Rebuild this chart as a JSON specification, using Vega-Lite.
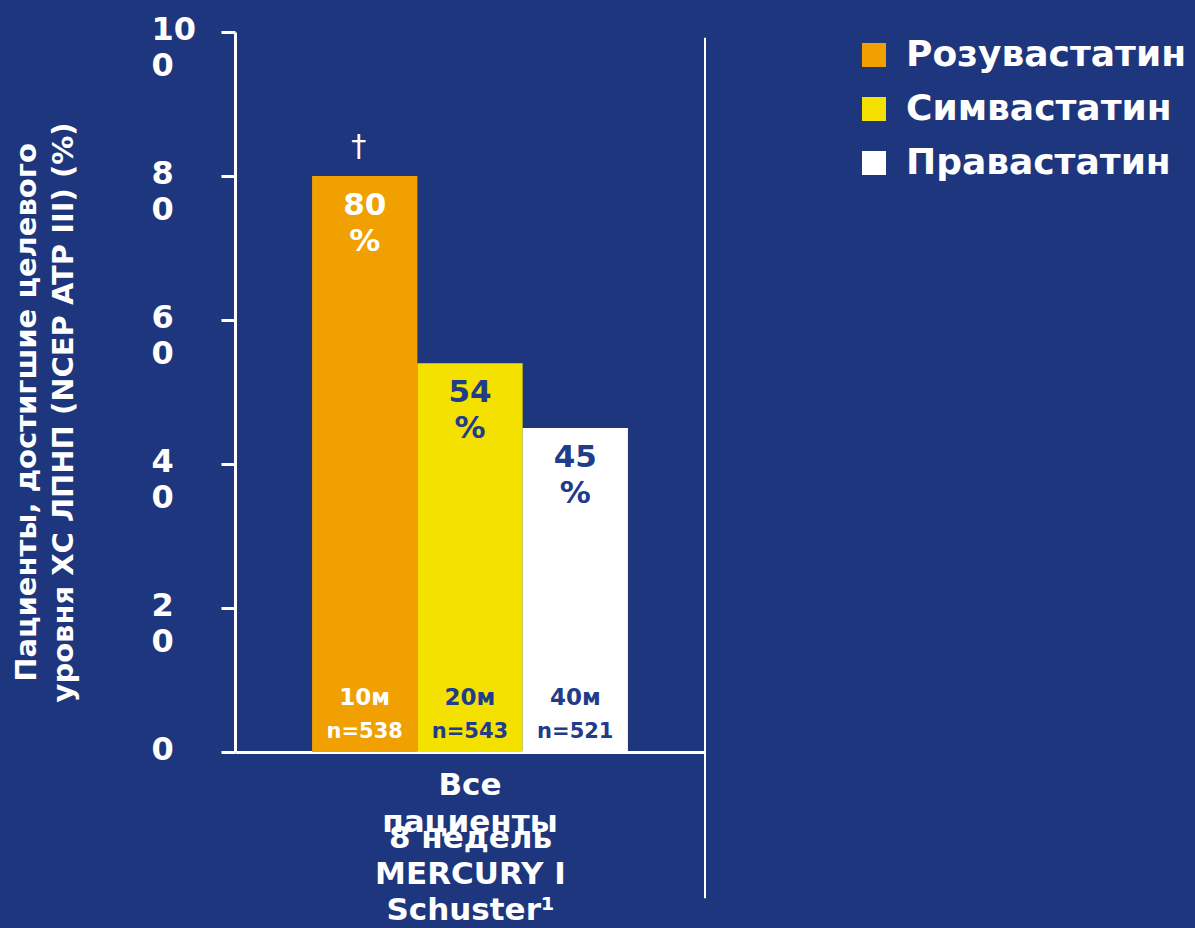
{
  "$schema": "https://vega.github.io/schema/vega-lite/v6.json",
  "width": 470,
  "height": 720,
  "autosize": {"type": "none"},
  "padding": {"left": 235, "top": 32, "right": 490, "bottom": 176},
  "background": "#1e367d",
  "config": {"view": {"stroke": null}, "font": "DejaVu Sans"},
  "data": {
    "values": [
      {"group": "Все пациенты", "drug": "Розувастатин", "value": 80, "label": "80\n%", "dose": "10м", "n": "n=538"},
      {"group": "Все пациенты", "drug": "Симвастатин", "value": 54, "label": "54\n%", "dose": "20м", "n": "n=543"},
      {"group": "Все пациенты", "drug": "Правастатин", "value": 45, "label": "45\n%", "dose": "40м", "n": "n=521"}
    ]
  },
  "encoding": {
    "x": {
      "field": "group",
      "type": "nominal",
      "scale": {"paddingInner": 0, "paddingOuter": 0},
      "axis": {
        "title": ["8 недель", "MERCURY I", "Schuster¹"],
        "titleColor": "white",
        "titleFont": "DejaVu Sans",
        "titleFontSize": 31,
        "titleFontWeight": "bold",
        "titleLineHeight": 36,
        "titlePadding": -14,
        "labelColor": "white",
        "labelFont": "DejaVu Sans",
        "labelFontSize": 31,
        "labelFontWeight": "bold",
        "labelAngle": 0,
        "labelExpr": "split(datum.label, ' ')",
        "labelLineHeight": 37,
        "labelPadding": 18,
        "ticks": false,
        "domainColor": "white",
        "domainWidth": 3
      }
    }
  },
  "layer": [
    {
      "mark": {"type": "bar"},
      "encoding": {
        "xOffset": {"field": "drug", "type": "nominal", "sort": ["Розувастатин", "Симвастатин", "Правастатин"], "scale": {"paddingInner": 0, "paddingOuter": 0.732}},
        "y": {
          "field": "value",
          "type": "quantitative",
          "scale": {"domain": [0, 100], "nice": false},
          "axis": {
            "values": [0, 20, 40, 60, 80, 100],
            "grid": false,
            "title": ["Пациенты, достигшие целевого", "уровня ХС ЛПНП (NCEP ATP III) (%)"],
            "titleColor": "white",
            "titleFont": "DejaVu Sans",
            "titleFontSize": 29,
            "titleFontWeight": "bold",
            "titleLineHeight": 37,
            "titlePadding": 73,
            "titleY": 380,
            "labelColor": "white",
            "labelFont": "DejaVu Sans",
            "labelFontSize": 32,
            "labelFontWeight": "bold",
            "labelAlign": "left",
            "labelBaseline": "alphabetic",
            "labelOffset": 7,
            "labelPadding": 70,
            "labelLineHeight": 36,
            "labelExpr": "datum.value == 0 ? '0' : [slice(datum.label, 0, -1), slice(datum.label, -1)]",
            "domainColor": "white",
            "domainWidth": 3,
            "tickColor": "white",
            "tickWidth": 3,
            "tickSize": 14
          }
        },
        "color": {
          "field": "drug",
          "type": "nominal",
          "scale": {"domain": ["Розувастатин", "Симвастатин", "Правастатин"], "range": ["#f0a000", "#f5e100", "#ffffff"]},
          "legend": {
            "title": null,
            "orient": "none",
            "legendX": 621,
            "legendY": 5,
            "padding": 0,
            "symbolType": "square",
            "symbolSize": 576,
            "symbolStrokeWidth": 0,
            "labelColor": "white",
            "labelFont": "DejaVu Sans",
            "labelFontSize": 36,
            "labelFontWeight": "bold",
            "labelOffset": 14,
            "labelLimit": 500,
            "rowPadding": 18
          }
        }
      }
    },
    {
      "mark": {"type": "text", "fontSize": 31, "fontWeight": "bold", "baseline": "top", "dy": 15, "lineBreak": "\n", "lineHeight": 36, "font": "DejaVu Sans"},
      "encoding": {
        "xOffset": {"field": "drug", "type": "nominal", "sort": ["Розувастатин", "Симвастатин", "Правастатин"]},
        "y": {"field": "value", "type": "quantitative"},
        "text": {"field": "label"},
        "color": {"condition": {"test": "datum.drug === 'Розувастатин'", "value": "white"}, "value": "#203c8a"}
      }
    },
    {
      "mark": {"type": "text", "fontSize": 23, "fontWeight": "bold", "baseline": "middle", "font": "DejaVu Sans"},
      "encoding": {
        "xOffset": {"field": "drug", "type": "nominal", "sort": ["Розувастатин", "Симвастатин", "Правастатин"]},
        "y": {"datum": 7.5, "type": "quantitative"},
        "text": {"field": "dose"},
        "color": {"condition": {"test": "datum.drug === 'Розувастатин'", "value": "white"}, "value": "#203c8a"}
      }
    },
    {
      "mark": {"type": "text", "fontSize": 21, "fontWeight": "bold", "baseline": "middle", "font": "DejaVu Sans"},
      "encoding": {
        "xOffset": {"field": "drug", "type": "nominal", "sort": ["Розувастатин", "Симвастатин", "Правастатин"]},
        "y": {"datum": 2.8, "type": "quantitative"},
        "text": {"field": "n"},
        "color": {"condition": {"test": "datum.drug === 'Розувастатин'", "value": "white"}, "value": "#203c8a"}
      }
    },
    {
      "transform": [{"filter": "datum.drug === 'Розувастатин'"}],
      "mark": {"type": "text", "fontSize": 30, "baseline": "middle", "font": "DejaVu Sans", "color": "white", "text": "†", "dx": -6},
      "encoding": {
        "xOffset": {"field": "drug", "type": "nominal", "sort": ["Розувастатин", "Симвастатин", "Правастатин"]},
        "y": {"datum": 84, "type": "quantitative"}
      }
    },
    {
      "transform": [{"filter": "datum.drug === 'Розувастатин'"}],
      "mark": {"type": "rule", "color": "white", "strokeWidth": 2},
      "encoding": {
        "x": {"field": "group", "type": "nominal", "bandPosition": 1},
        "y": {"datum": -20.3, "type": "quantitative"},
        "y2": {"datum": 99.2}
      }
    }
  ]
}
